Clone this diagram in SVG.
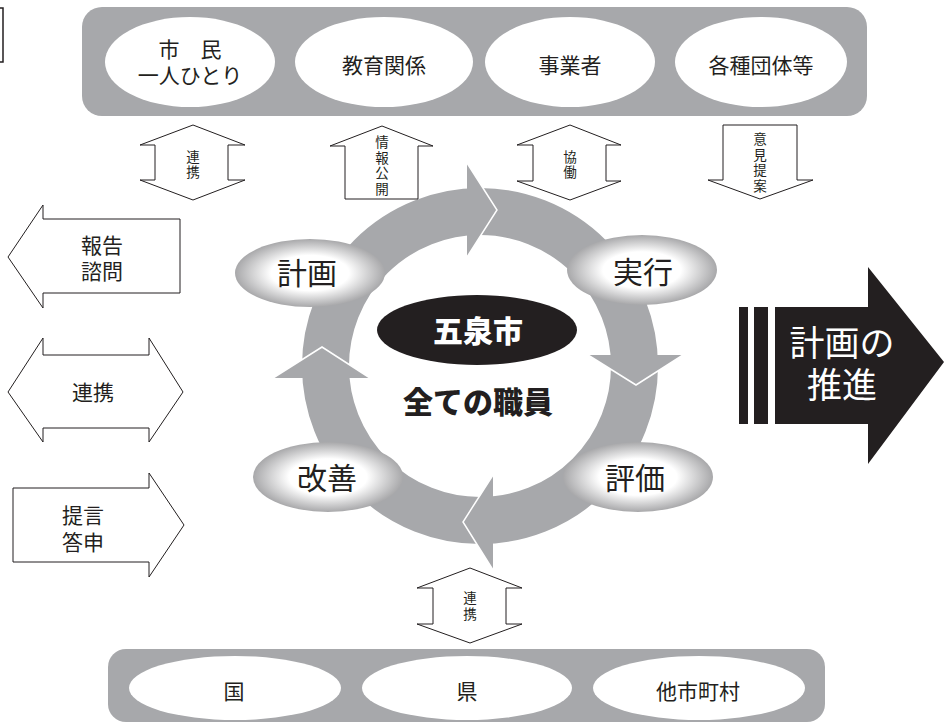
<svg xmlns="http://www.w3.org/2000/svg" width="945" height="724" viewBox="0 0 945 724">
<defs>
<radialGradient id="eg" cx="50%" cy="50%" r="50%">
<stop offset="0" stop-color="#ffffff"/>
<stop offset="0.52" stop-color="#ffffff"/>
<stop offset="1" stop-color="#a8a8aa"/>
</radialGradient>
</defs>
<style>
.bn{fill:#a7a8ab}
.wh{fill:#ffffff}
.ol{fill:#ffffff;stroke:#231f20;stroke-width:1}
.cy{fill:url(#eg)}
text{font-family:"Liberation Sans","Noto Sans CJK JP","Noto Sans CJK SC",sans-serif;fill:#231f20;text-anchor:middle;dominant-baseline:central}
.t21{font-size:21px}
.t14{font-size:13.5px}
.t30{font-size:30px}
.b30{font-size:30px;font-weight:900}
.wt{fill:#ffffff}
</style>

<path d="M0,8 H3 V62 H0" fill="none" stroke="#231f20" stroke-width="1.5"/>

<g id="top-banner">
<rect class="bn" x="82" y="7" width="785" height="109" rx="20"/>
<g id="n-shimin"><ellipse class="wh" cx="190" cy="62" rx="85" ry="45"/><text class="t21"><tspan x="190" y="49">市　民</tspan><tspan x="190" y="75">一人ひとり</tspan></text></g>
<g id="n-kyouiku"><ellipse class="wh" cx="384" cy="62" rx="89" ry="45"/><text class="t21" x="384" y="65">教育関係</text></g>
<g id="n-jigyousha"><ellipse class="wh" cx="570" cy="62" rx="85" ry="45"/><text class="t21" x="570" y="65">事業者</text></g>
<g id="n-kakushu"><ellipse class="wh" cx="761" cy="62" rx="86" ry="45"/><text class="t21" x="761" y="65">各種団体等</text></g>
</g>

<g id="bottom-banner">
<rect class="bn" x="108" y="649" width="717" height="73" rx="18"/>
<g id="n-kuni"><ellipse class="wh" cx="235" cy="688" rx="106" ry="32"/><text class="t21" x="234" y="691">国</text></g>
<g id="n-ken"><ellipse class="wh" cx="467" cy="688" rx="105" ry="32"/><text class="t21" x="467" y="691">県</text></g>
<g id="n-tashi"><ellipse class="wh" cx="699" cy="688" rx="106" ry="32"/><text class="t21" x="698" y="691">他市町村</text></g>
</g>

<g id="cycle">
<circle cx="480" cy="366" r="154.5" fill="none" stroke="#a7a8ab" stroke-width="47"/>
<polygon class="bn" points="467,163 497,210 467,257"/>
<polyline points="467,163 497,210 467,257" fill="none" stroke="#ffffff" stroke-width="1.5"/>
<polygon class="bn" points="588,355 636,385 683,355"/>
<polyline points="588,355 636,385 683,355" fill="none" stroke="#ffffff" stroke-width="1.5"/>
<polygon class="bn" points="493,475 463,522 493,570"/>
<polyline points="493,475 463,522 493,570" fill="none" stroke="#ffffff" stroke-width="1.5"/>
<polygon class="bn" points="273,378 322,347 370,378"/>
<polyline points="273,378 322,347 370,378" fill="none" stroke="#ffffff" stroke-width="1.5"/>
</g>

<g id="connectors">
<g id="a-renkei-top"><polygon class="ol" points="193,125 245,145 228,145 228,180 245,180 193,200 140,180 155,180 155,145 140,145"/><text class="t14"><tspan x="193" y="156.5">連</tspan><tspan x="193" y="172">携</tspan></text></g>
<g id="a-jouhou"><polygon class="ol" points="382,126 433,146 418,146 418,199 345,199 345,146 330,146"/><text class="t14"><tspan x="382" y="142">情</tspan><tspan x="382" y="157.5">報</tspan><tspan x="382" y="173">公</tspan><tspan x="382" y="188.5">開</tspan></text></g>
<g id="a-kyoudou"><polygon class="ol" points="570,125 621,145 606,145 606,181 621,181 570,200 517,181 533,181 533,145 517,145"/><text class="t14"><tspan x="570" y="156.5">協</tspan><tspan x="570" y="172">働</tspan></text></g>
<g id="a-iken"><polygon class="ol" points="723,125 797,125 797,180 813,180 760,199 708,180 723,180"/><text class="t14"><tspan x="760" y="139">意</tspan><tspan x="760" y="154.5">見</tspan><tspan x="760" y="170">提</tspan><tspan x="760" y="185.5">案</tspan></text></g>
<g id="a-renkei-bottom"><polygon class="ol" points="470,568 522,588 506,588 506,624 522,624 470,643 417,624 433,624 433,588 417,588"/><text class="t14"><tspan x="470" y="598">連</tspan><tspan x="470" y="613.5">携</tspan></text></g>
<g id="a-houkoku"><polygon class="ol" points="8,257 43,205 43,219 180,219 180,293 43,293 43,308"/><text class="t21"><tspan x="102" y="245">報告</tspan><tspan x="102" y="271">諮問</tspan></text></g>
<g id="a-renkei-left"><polygon class="ol" points="8,392 43,338 43,355 149,355 149,338 183,392 149,442 149,428 43,428 43,442"/><text class="t21" x="93" y="392">連携</text></g>
<g id="a-teigen"><polygon class="ol" points="13,488 149,488 149,473 184,525 149,577 149,562 13,562"/><text class="t21"><tspan x="83" y="515">提言</tspan><tspan x="83" y="542">答申</tspan></text></g>
</g>

<g id="n-keikaku"><ellipse class="cy" cx="310" cy="273" rx="75" ry="34"/><text class="t30" x="307" y="273">計画</text></g>
<g id="n-jikkou"><ellipse class="cy" cx="642" cy="270" rx="75" ry="35"/><text class="t30" x="643" y="272">実行</text></g>
<g id="n-kaizen"><ellipse class="cy" cx="328" cy="477" rx="75" ry="35"/><text class="t30" x="327" y="478">改善</text></g>
<g id="n-hyouka"><ellipse class="cy" cx="638" cy="477" rx="75" ry="35"/><text class="t30" x="635" y="478">評価</text></g>

<g id="n-gosen">
<ellipse cx="477" cy="330" rx="100" ry="35" fill="#231f20"/>
<text class="b30 wt" x="478" y="331">五泉市</text>
<text class="b30" x="478" y="402">全ての職員</text>
</g>

<g id="n-suishin">
<rect x="739" y="307" width="9" height="117" fill="#231f20"/>
<rect x="754" y="307" width="14" height="117" fill="#231f20"/>
<polygon points="775,307 868,307 868,267 944,362 868,464 868,424 775,424" fill="#231f20"/>
<text class="wt" style="font-size:35px"><tspan x="842" y="343">計画の</tspan><tspan x="842" y="385">推進</tspan></text>
</g>
</svg>
